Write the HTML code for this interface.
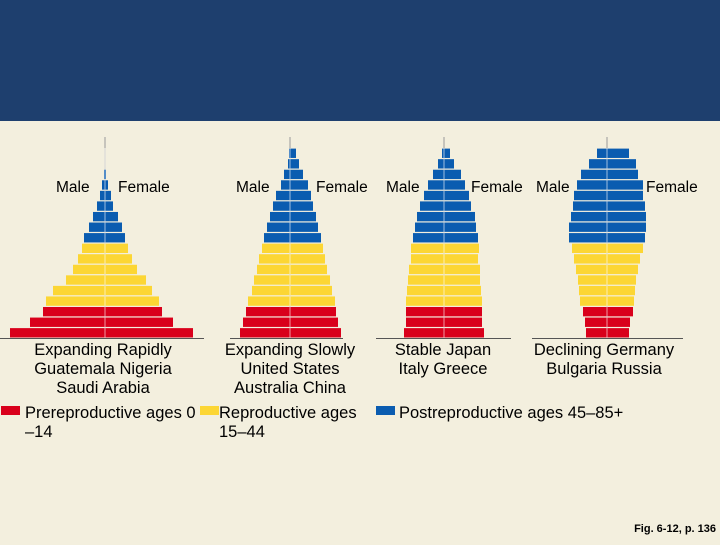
<!DOCTYPE html>
<html><head><meta charset="utf-8"><style>
html,body{margin:0;padding:0}
body{width:720px;height:540px;background:#f3efde;font-family:"Liberation Sans",Arial,sans-serif;overflow:hidden}
</style></head><body>
<svg id="chart" width="720" height="540" viewBox="0 0 720 540" xmlns="http://www.w3.org/2000/svg" font-family="Liberation Sans, Arial, sans-serif">
<rect x="0" y="0" width="720" height="121" fill="#1e3f6e"/>
<g id="pyr"></g>
<g font-size="16.5" fill="#000" text-anchor="middle">
<text x="103" y="355">Expanding Rapidly</text>
<text x="103" y="374">Guatemala Nigeria</text>
<text x="103" y="393">Saudi Arabia</text>
<text x="290" y="355">Expanding Slowly</text>
<text x="290" y="374">United States</text>
<text x="290" y="393">Australia China</text>
<text x="443" y="355">Stable Japan</text>
<text x="443" y="374">Italy Greece</text>
<text x="604" y="355">Declining Germany</text>
<text x="604" y="374">Bulgaria Russia</text>
</g>
<g font-size="15.5" fill="#000">
<text x="56" y="192">Male</text>
<text x="118" y="192">Female</text>
<text x="236" y="192">Male</text>
<text x="316" y="192">Female</text>
<text x="386" y="192">Male</text>
<text x="471" y="192">Female</text>
<text x="536" y="192">Male</text>
<text x="646" y="192">Female</text>
</g>
<g font-size="16.5" fill="#000">
<rect x="1" y="406" width="19" height="9" fill="#d9001b"/>
<text x="25" y="418">Prereproductive ages 0</text>
<text x="25" y="437">–14</text>
<rect x="200" y="406" width="19" height="9" fill="#fcd634"/>
<text x="219" y="418">Reproductive ages</text>
<text x="219" y="437">15–44</text>
<rect x="376" y="406" width="19" height="9" fill="#0a5cb0"/>
<text x="399" y="418">Postreproductive ages 45–85+</text>
</g>
<text x="716" y="532" font-size="11" font-weight="bold" text-anchor="end">Fig. 6-12, p. 136</text>
</svg>
<script>
// Half-widths (px) per age row, top (85+) to bottom (0-4)
const ageGroups = ["85+","80-84","75-79","70-74","65-69","60-64","55-59","50-54","45-49","40-44","35-39","30-34","25-29","20-24","15-19","10-14","5-9","0-4"];
const rapidMale =   [0,0,1,3,5,8,12,16,21,23,27,32,39,52,59,62,75,95];
const rapidFemale = [0,0,1,3,6,8,13,17,20,23,27,32,41,47,54,57,68,88];
const slowMale =    [1,2,6,9,14,17,20,23,26,28,31,33,36,38,42,44,47,50];
const slowFemale =  [6,9,13,18,21,23,26,28,31,33,35,37,40,42,45,46,48,51];
const stableMale =  [2,6,11,16,20,24,27,29,31,33,33,35,36,37,38,38,38,40];
const stableFemale= [6,10,17,21,25,27,31,32,34,35,34,36,36,37,38,38,38,40];
const declMale =    [10,18,26,30,33,34,36,38,38,35,33,31,29,28,27,24,22,21];
const declFemale =  [22,29,31,36,36,38,39,39,38,36,33,31,29,28,27,26,23,22];

const pyramids = [
  {name:"expanding-rapidly", cx:105, m:rapidMale, f:rapidFemale, ax0:0, ax1:204},
  {name:"expanding-slowly", cx:290, m:slowMale, f:slowFemale, ax0:230, ax1:343},
  {name:"stable", cx:444, m:stableMale, f:stableFemale, ax0:376, ax1:511},
  {name:"declining", cx:607, m:declMale, f:declFemale, ax0:532, ax1:683}
];
const top0 = 148, rowH = 10.56;
function yRow(i){ return top0 + i*rowH; }
function colorFor(i){ return i < 9 ? "#0a5cb0" : (i < 15 ? "#fcd634" : "#d9001b"); }
const NS = "http://www.w3.org/2000/svg";
const g = document.getElementById("pyr");
pyramids.forEach(p => {
  const grp = document.createElementNS(NS,"g");
  
  
  const cl = document.createElementNS(NS,"line");
  
  
  cl.setAttribute("x1",p.cx);cl.setAttribute("x2",p.cx);
  cl.setAttribute("y1",137);cl.setAttribute("y2",338);
  cl.setAttribute("stroke","#999");cl.setAttribute("stroke-width","1");
  grp.appendChild(cl);
  ageGroups.forEach((a,i) => {
    [["male",p.m[i],-1],["female",p.f[i],1]].forEach(([sex,w,dir]) => {
      if (w <= 0) return;
      const r = document.createElementNS(NS,"rect");
      
      
      r.setAttribute("x", dir < 0 ? p.cx - w : p.cx);
      r.setAttribute("y", yRow(i) + 0.6);
      r.setAttribute("width", w);
      r.setAttribute("height", rowH - 1.2);
      r.setAttribute("fill", colorFor(i));
      grp.appendChild(r);
    });
  });
  const cl2 = document.createElementNS(NS,"line");
  
  
  cl2.setAttribute("x1",p.cx);cl2.setAttribute("x2",p.cx);
  cl2.setAttribute("y1",top0);cl2.setAttribute("y2",338);
  cl2.setAttribute("stroke","rgba(255,255,255,0.6)");cl2.setAttribute("stroke-width","1");
  grp.appendChild(cl2);
  const ax = document.createElementNS(NS,"line");
  
  
  ax.setAttribute("x1",p.ax0);ax.setAttribute("x2",p.ax1);
  ax.setAttribute("y1",338.5);ax.setAttribute("y2",338.5);
  ax.setAttribute("stroke","#555");ax.setAttribute("stroke-width","1");
  grp.appendChild(ax);
  g.appendChild(grp);
});
</script>
</body></html>
